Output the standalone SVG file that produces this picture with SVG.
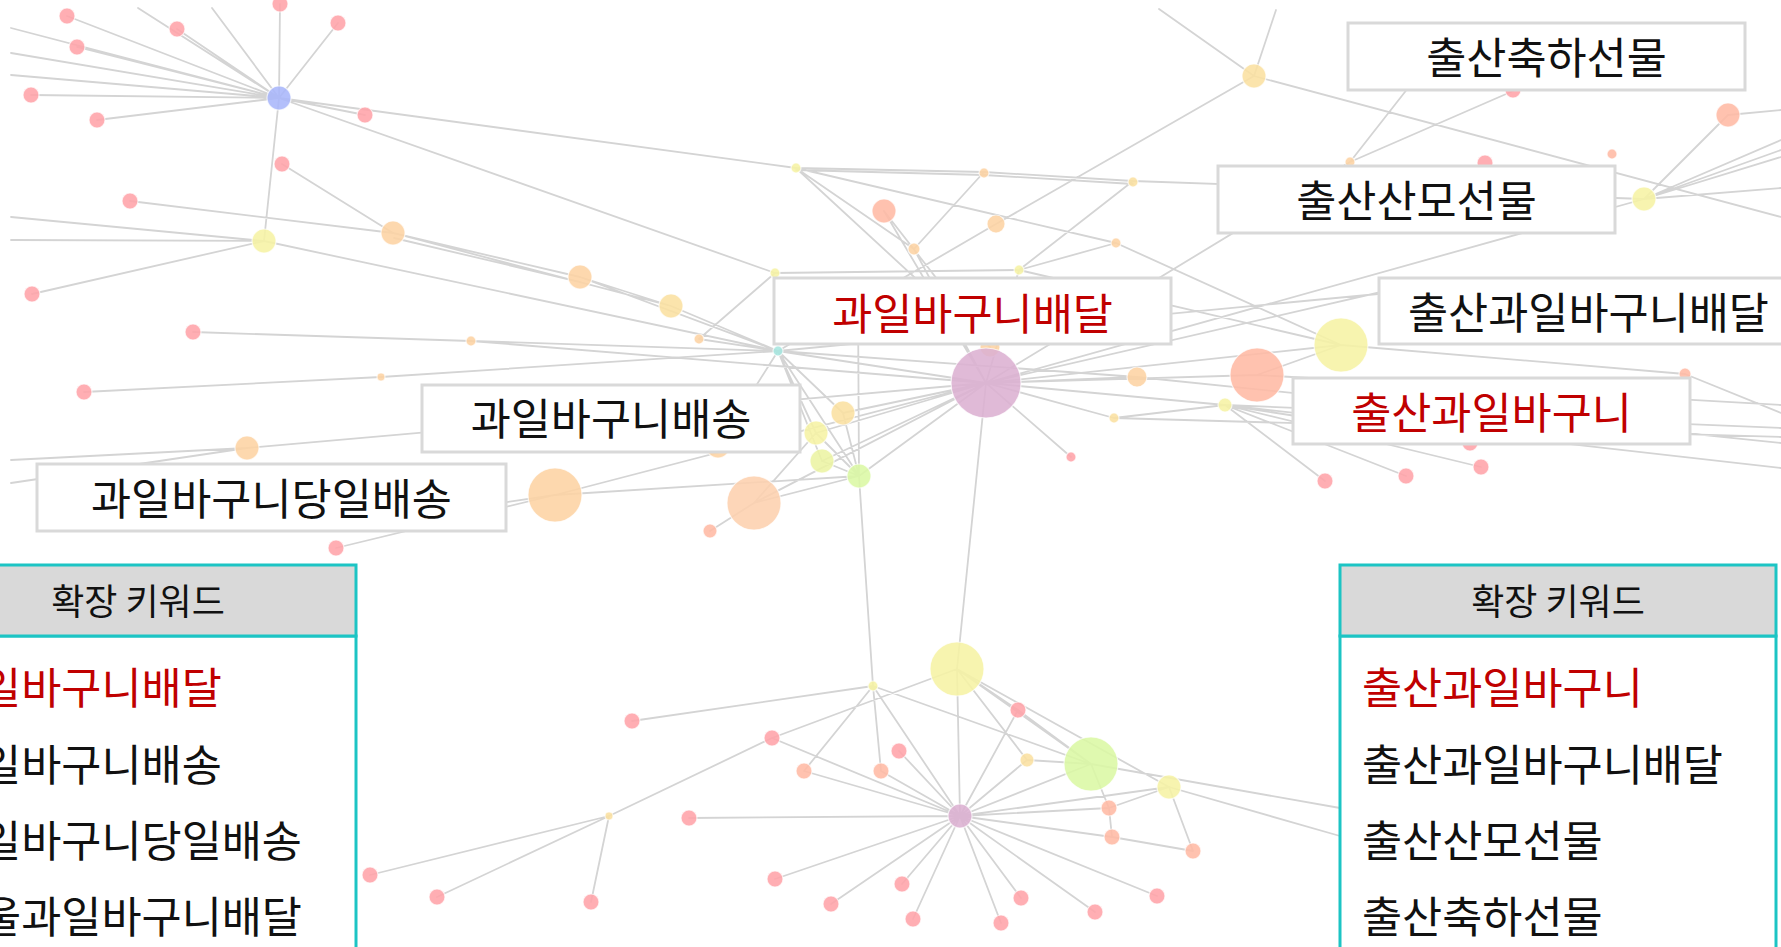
<svg xmlns="http://www.w3.org/2000/svg" width="1781" height="947" viewBox="0 0 1781 947">
<style>
.e{stroke:#d4d4d4;stroke-width:1.8;fill:none;stroke-linecap:round}
circle{stroke:#fff;stroke-width:1.2;stroke-opacity:.7}
.rd{fill:#ffa3a8}.sa{fill:#ffbaa4}.or{fill:#fdd3a3}.lo{fill:#fbe0a0}.ye{fill:#f6f2a4}.gr{fill:#dbf8a4}.yg{fill:#ecf4a3}.bl{fill:#a8b6fb}.pu{fill:#dcb0d2}.te{fill:#a6e6df}
.nodes circle{fill-opacity:.88}
.lb{fill:#fff;stroke:#d9d9d9;stroke-width:3}
.t{font-family:"Noto Sans CJK KR","Noto Sans",sans-serif;font-size:43.6px;fill:#111;text-anchor:middle}
.s{text-anchor:start}
.red{fill:#c00000}
.th{fill:#d9d9d9;stroke:#1cc4c4;stroke-width:3}
.tb{fill:#fff;stroke:#1cc4c4;stroke-width:3}
.h{font-family:"Noto Sans CJK KR","Noto Sans",sans-serif;font-size:36px;fill:#111;text-anchor:middle}
</style>
<rect width="1781" height="947" fill="#fff"/>
<g id="connectors">
<path class="e" d="M279 98L67 16M279 98L177 29M279 98L280 4M279 98L338 23M279 98L77 47M279 98L31 95M279 98L97 120M279 98L365 115M279 98L11 28M279 98L11 53M279 98L11 75M279 98L138 8M279 98L212 8M279 98L796 168M279 98L775 273M279 98L264 241
M282 164L393 233M130 201L393 233M393 233L580 277M394 238L580 282M580 277L671 306M393 233L671 306M671 306L778 351M580 277L778 351
M264 241L11 217M264 241L11 240M264 241L32 294M264 241L778 351
M193 332L471 341M471 341L778 351M471 341L986 383M84 392L381 377M381 377L778 351
M11 460L247 448M247 448L986 383M11 483L247 448M336 548L555 495M555 495L986 383M555 495L859 476M420 515L555 495
M699 339L778 351M775 273L699 339M775 273L1019 270M796 168L984 172M796 170L984 175M984 172L1133 181M984 175L1133 184M796 168L914 249M914 249L984 172M796 168L1116 243M1116 243L1019 270M1019 270L1133 181M1116 243L1341 345M1133 181L1644 199M914 249L986 383M796 168L990 347M884 211L990 347
M1254 76L996 224M996 224L778 351M1159 9L1254 76M1276 10L1254 76M1254 76L1781 217M1350 162L1513 91M1350 162L1430 60M1350 162L986 383M1644 199L986 383M1644 199L1728 115M1728 115L1781 110M1644 199L1781 140M1644 199L1781 150M1644 199L1781 157M1644 199L1781 188
M986 383L778 351M986 383L843 413M986 383L816 433M986 383L822 461M986 383L859 476M986 383L754 503M986 383L1137 377M986 383L1257 375M986 383L1341 345M986 383L1114 418M986 383L1071 457M986 383L957 669M986 383L884 211M986 383L1019 270M986 383L1420 283M986 383L1225 405
M778 351L843 413M778 351L816 433M778 351L822 461M778 351L859 476M778 351L1137 377M778 351L718 446M778 351L1420 290
M1137 377L1781 443M1257 375L1781 405M1257 375L1341 345M1019 270L1341 345M1341 345L1685 374M1685 374L1781 413M1114 418L1225 405M1225 405L1325 481M1225 405L1406 476M1225 405L1481 467M1225 405L1470 443M1225 405L1781 428M1225 405L1781 468M1114 418L1781 437
M710 531L754 503M754 503L816 433M754 503L859 476M858 300L859 476M859 476L873 686M822 461L859 476M816 433L859 476M843 413L859 476
M873 686L632 721M873 686L804 771M873 686L881 771M873 686L960 816M873 686L1091 764
M957 669L772 738M957 669L960 816M957 669L1018 710M957 669L1027 760M957 669L1091 764M957 669L1169 787
M772 738L609 816M772 738L960 816M609 816L370 875M609 816L437 897M609 816L591 902
M960 816L689 818M960 816L804 771M960 816L881 771M960 816L899 751M960 816L1018 710M960 816L1027 760M960 816L1091 764M960 816L1109 808M960 816L1112 837M960 816L1169 787M960 816L775 879M960 816L831 904M960 816L902 884M960 816L913 919M960 816L1001 923M960 816L1021 898M960 816L1095 912M960 816L1157 896
M1091 764L1340 808M1091 764L1109 808M1018 710L1091 764M1027 760L1091 764M1109 808L1112 837M1169 787L1109 808M1169 787L1193 851M1169 787L1340 836M1112 837L1193 851"/>
</g>
<g class="nodes">
<g id="n1"><circle class="rd" cx="67" cy="16" r="8"/></g>
<g id="n2"><circle class="rd" cx="177" cy="29" r="8"/></g>
<g id="n3"><circle class="rd" cx="280" cy="4" r="8"/></g>
<g id="n4"><circle class="rd" cx="338" cy="23" r="8"/></g>
<g id="n5"><circle class="rd" cx="77" cy="47" r="8"/></g>
<g id="n6"><circle class="rd" cx="31" cy="95" r="8"/></g>
<g id="n7"><circle class="rd" cx="97" cy="120" r="8"/></g>
<g id="n8"><circle class="rd" cx="365" cy="115" r="8"/></g>
<g id="n9"><circle class="rd" cx="282" cy="164" r="8"/></g>
<g id="n10"><circle class="rd" cx="130" cy="201" r="8"/></g>
<g id="n11"><circle class="rd" cx="32" cy="294" r="8"/></g>
<g id="n12"><circle class="bl" cx="279" cy="98" r="12"/></g>
<g id="n13"><circle class="ye" cx="264" cy="241" r="12"/></g>
<g id="n14"><circle class="or" cx="393" cy="233" r="12"/></g>
<g id="n15"><circle class="or" cx="580" cy="277" r="12"/></g>
<g id="n16"><circle class="lo" cx="671" cy="306" r="12"/></g>
<g id="n17"><circle class="rd" cx="193" cy="332" r="8"/></g>
<g id="n18"><circle class="or" cx="471" cy="341" r="5"/></g>
<g id="n19"><circle class="or" cx="381" cy="377" r="4"/></g>
<g id="n20"><circle class="rd" cx="84" cy="392" r="8"/></g>
<g id="n21"><circle class="or" cx="247" cy="448" r="12"/></g>
<g id="n22"><circle class="rd" cx="336" cy="548" r="8"/></g>
<g id="n23"><circle class="or" cx="555" cy="495" r="27"/></g>
<g id="n24"><circle class="or" cx="699" cy="339" r="5"/></g>
<g id="n25"><circle class="te" cx="778" cy="351" r="5"/></g>
<g id="n26"><circle class="ye" cx="775" cy="273" r="5"/></g>
<g id="n27"><circle class="ye" cx="796" cy="168" r="5"/></g>
<g id="n28"><circle class="or" cx="984" cy="173" r="5"/></g>
<g id="n29"><circle class="lo" cx="1133" cy="182" r="5"/></g>
<g id="n30"><circle class="sa" cx="884" cy="211" r="12"/></g>
<g id="n31"><circle class="or" cx="996" cy="224" r="9"/></g>
<g id="n32"><circle class="or" cx="914" cy="249" r="6"/></g>
<g id="n33"><circle class="or" cx="1116" cy="243" r="5"/></g>
<g id="n34"><circle class="ye" cx="1019" cy="270" r="5"/></g>
<g id="n35"><circle class="lo" cx="1254" cy="76" r="12"/></g>
<g id="n36"><circle class="or" cx="1350" cy="162" r="5"/></g>
<g id="n37"><circle class="rd" cx="1485" cy="163" r="8"/></g>
<g id="n38"><circle class="rd" cx="1513" cy="90" r="8"/></g>
<g id="n39"><circle class="sa" cx="1612" cy="154" r="5"/></g>
<g id="n40"><circle class="sa" cx="1728" cy="115" r="12"/></g>
<g id="n41"><circle class="ye" cx="1644" cy="199" r="12"/></g>
<g id="n42"><circle class="or" cx="990" cy="347" r="10"/></g>
<g id="n43"><circle class="pu" cx="986" cy="383" r="35"/></g>
<g id="n44"><circle class="or" cx="1137" cy="377" r="10"/></g>
<g id="n45"><circle class="lo" cx="1114" cy="418" r="5"/></g>
<g id="n46"><circle class="rd" cx="1071" cy="457" r="5"/></g>
<g id="n47"><circle class="sa" cx="1257" cy="375" r="27"/></g>
<g id="n48"><circle class="ye" cx="1341" cy="345" r="27"/></g>
<g id="n49"><circle class="ye" cx="1225" cy="405" r="7"/></g>
<g id="n50"><circle class="rd" cx="1325" cy="481" r="8"/></g>
<g id="n51"><circle class="rd" cx="1406" cy="476" r="8"/></g>
<g id="n52"><circle class="rd" cx="1481" cy="467" r="8"/></g>
<g id="n53"><circle class="rd" cx="1470" cy="443" r="8"/></g>
<g id="n54"><circle class="sa" cx="1685" cy="374" r="6"/></g>
<g id="n55"><circle class="lo" cx="843" cy="413" r="12"/></g>
<g id="n56"><circle class="ye" cx="816" cy="433" r="12"/></g>
<g id="n57"><circle class="yg" cx="822" cy="461" r="12"/></g>
<g id="n58"><circle class="gr" cx="859" cy="476" r="12"/></g>
<g id="n59"><circle class="or" cx="718" cy="446" r="12"/></g>
<g id="n60"><circle class="sa" cx="754" cy="503" r="27" style="fill:#fdd0ae"/></g>
<g id="n61"><circle class="sa" cx="710" cy="531" r="7"/></g>
<g id="n62"><circle class="ye" cx="957" cy="669" r="27"/></g>
<g id="n63"><circle class="ye" cx="873" cy="686" r="5"/></g>
<g id="n64"><circle class="rd" cx="632" cy="721" r="8"/></g>
<g id="n65"><circle class="rd" cx="772" cy="738" r="8"/></g>
<g id="n66"><circle class="rd" cx="899" cy="751" r="8"/></g>
<g id="n67"><circle class="sa" cx="804" cy="771" r="8"/></g>
<g id="n68"><circle class="sa" cx="881" cy="771" r="8"/></g>
<g id="n69"><circle class="rd" cx="1018" cy="710" r="8"/></g>
<g id="n70"><circle class="lo" cx="1027" cy="760" r="7"/></g>
<g id="n71"><circle class="gr" cx="1091" cy="764" r="27"/></g>
<g id="n72"><circle class="ye" cx="1169" cy="787" r="12"/></g>
<g id="n73"><circle class="sa" cx="1109" cy="808" r="8"/></g>
<g id="n74"><circle class="sa" cx="1112" cy="837" r="8"/></g>
<g id="n75"><circle class="sa" cx="1193" cy="851" r="8"/></g>
<g id="n76"><circle class="pu" cx="960" cy="816" r="12"/></g>
<g id="n77"><circle class="lo" cx="609" cy="816" r="4"/></g>
<g id="n78"><circle class="rd" cx="689" cy="818" r="8"/></g>
<g id="n79"><circle class="rd" cx="775" cy="879" r="8"/></g>
<g id="n80"><circle class="rd" cx="831" cy="904" r="8"/></g>
<g id="n81"><circle class="rd" cx="902" cy="884" r="8"/></g>
<g id="n82"><circle class="rd" cx="913" cy="919" r="8"/></g>
<g id="n83"><circle class="rd" cx="1001" cy="923" r="8"/></g>
<g id="n84"><circle class="rd" cx="1021" cy="898" r="8"/></g>
<g id="n85"><circle class="rd" cx="1095" cy="912" r="8"/></g>
<g id="n86"><circle class="rd" cx="1157" cy="896" r="8"/></g>
<g id="n87"><circle class="rd" cx="370" cy="875" r="8"/></g>
<g id="n88"><circle class="rd" cx="437" cy="897" r="8"/></g>
<g id="n89"><circle class="rd" cx="591" cy="902" r="8"/></g>
</g>
<g id="label-chulsan-chukha"><rect class="lb" x="1348" y="23" width="397" height="67"/><text class="t" x="1546.5" y="74">출산축하선물</text></g>
<g id="label-chulsan-sanmo"><rect class="lb" x="1218" y="166" width="397" height="67"/><text class="t" x="1416.5" y="217">출산산모선물</text></g>
<g id="label-chulsan-basket-delivery"><rect class="lb" x="1379" y="278" width="440" height="66"/><text class="t s" x="1408" y="329">출산과일바구니배달</text></g>
<g id="label-chulsan-basket"><rect class="lb" x="1293" y="378" width="397" height="66"/><text class="t red" x="1491.5" y="429">출산과일바구니</text></g>
<g id="label-basket-delivery"><rect class="lb" x="774" y="278" width="397" height="66"/><text class="t red" x="972.5" y="330">과일바구니배달</text></g>
<g id="label-basket-shipping"><rect class="lb" x="422" y="385" width="378" height="67"/><text class="t" x="611" y="435">과일바구니배송</text></g>
<g id="label-basket-sameday"><rect class="lb" x="37" y="464" width="469" height="67"/><text class="t" x="271.5" y="515">과일바구니당일배송</text></g>
<g id="table-left">
<rect class="tb" x="-80" y="636" width="436" height="330"/>
<rect class="th" x="-80" y="565" width="436" height="71"/>
<text class="h" x="138" y="615">확장 키워드</text>
<text class="t s red" x="-59" y="704">과일바구니배달</text>
<text class="t s" x="-59" y="781">과일바구니배송</text>
<text class="t s" x="-59" y="857">과일바구니당일배송</text>
<text class="t s" x="-59" y="933">서울과일바구니배달</text>
</g>
<g id="table-right">
<rect class="tb" x="1340" y="636" width="436" height="330"/>
<rect class="th" x="1340" y="565" width="436" height="71"/>
<text class="h" x="1558" y="615">확장 키워드</text>
<text class="t s red" x="1362" y="704">출산과일바구니</text>
<text class="t s" x="1362" y="781">출산과일바구니배달</text>
<text class="t s" x="1362" y="857">출산산모선물</text>
<text class="t s" x="1362" y="933">출산축하선물</text>
</g>
</svg>
